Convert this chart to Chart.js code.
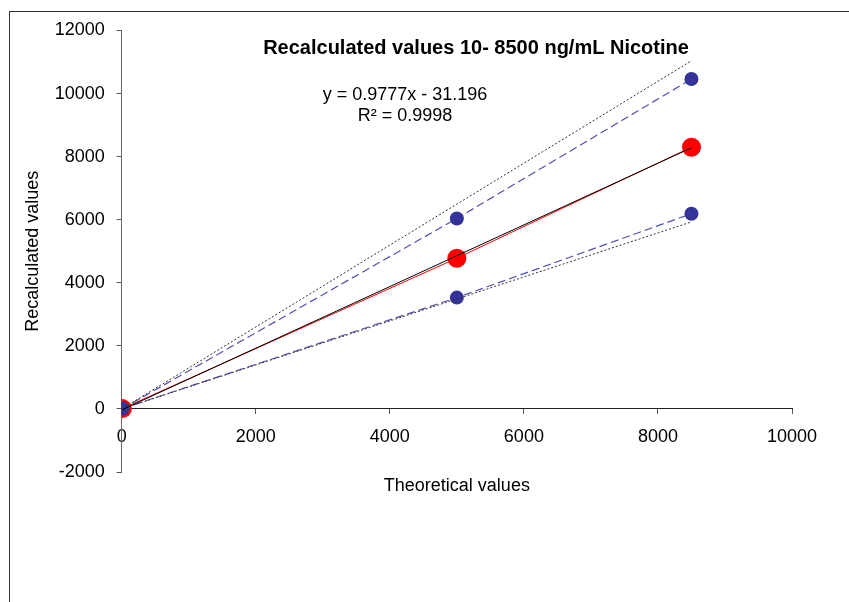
<!DOCTYPE html>
<html>
<head>
<meta charset="utf-8">
<title>Recalculated values</title>
<script src="https://cdn.jsdelivr.net/npm/chart.js@4/dist/chart.umd.min.js"></script>
<style>
    body { margin: 0; background: #fff; }
    .chartBox { position: relative; width: 849px; height: 602px; overflow: hidden; }
    .chartBox__frame { position: absolute; left: 9px; top: 11px; width: 900px; height: 700px; border: 1px solid #333; }
    #recalcChart { position: absolute; left: 0; top: 0; }
</style>
</head>
<body>
<div class="chartBox">
    <div class="chartBox__frame"></div>
    <canvas id="recalcChart" width="849" height="602"></canvas>
</div>
<script>
const FONT = "'Liberation Sans', Arial, sans-serif";

// concentrations (ng/mL) and recalculated results
const theoretical = [10, 5000, 8500];
const recalculated = [10, 4780, 8300];
const upperLimit = [10, 6040, 10460];
const lowerLimit = [10, 3530, 6190];

// dotted acceptance bounds
const boundX = [0, 8500];
const upperBound = [0, 11040];
const lowerBound = [0, 5930];

// linear fit
const slope = 0.9777;
const intercept = -31.196;
const rSquared = 0.9998;
const fitX = [10, 8500];

const chartTitle = 'Recalculated values 10- 8500 ng/mL Nicotine';
const xTitle = 'Theoretical values';
const yTitle = 'Recalculated values';

const xMin = 0, xMax = 10000, xStep = 2000;
const yMin = -2000, yMax = 12000, yStep = 2000;

function toPoints(xs, ys) {
    return xs.map(function (x, k) {
        return { x: x, y: ys[k] };
    });
}

const fitPoints = fitX.map(function (x) {
    return { x: x, y: slope * x + intercept };
});

// plain numbers, no thousands separator
function plainTick(value) {
    return String(value);
}

const textPlugin = {
    id: 'chartText',
    afterDraw(chart) {
        const ctx = chart.ctx;
        ctx.save();
        ctx.fillStyle = '#000';
        ctx.textAlign = 'center';
        ctx.textBaseline = 'middle';
        ctx.font = 'bold 20px ' + FONT;
        ctx.fillText(chartTitle, 476, 48);
        ctx.font = '18px ' + FONT;
        const sign = intercept < 0 ? ' - ' : ' + ';
        ctx.fillText('y = ' + slope + 'x' + sign + Math.abs(intercept), 405, 95);
        ctx.fillText('R\u00B2 = ' + rSquared, 405, 116);
        ctx.restore();
    }
};

const blue = '#333399';
const blueLine = '#5050b4';

const ctx = document.getElementById('recalcChart').getContext('2d');
const recalcChart = new Chart(ctx, {
    type: 'scatter',
    data: {
        datasets: [
            {
                label: 'fit',
                data: fitPoints,
                showLine: true,
                borderColor: '#000',
                borderWidth: 1,
                pointRadius: 0,
                order: 0
            },
            {
                label: 'upper bound',
                data: toPoints(boundX, upperBound),
                showLine: true,
                borderColor: '#333',
                borderWidth: 1,
                borderDash: [2, 2],
                pointRadius: 0,
                order: 1
            },
            {
                label: 'lower bound',
                data: toPoints(boundX, lowerBound),
                showLine: true,
                borderColor: '#333',
                borderWidth: 1,
                borderDash: [2, 2],
                pointRadius: 0,
                order: 1
            },
            {
                label: 'upper',
                data: toPoints(theoretical, upperLimit),
                showLine: true,
                borderColor: blueLine,
                borderWidth: 1.2,
                borderDash: [8, 4],
                pointRadius: 7,
                pointBackgroundColor: blue,
                pointBorderWidth: 0,
                order: 2
            },
            {
                label: 'lower',
                data: toPoints(theoretical, lowerLimit),
                showLine: true,
                borderColor: blueLine,
                borderWidth: 1.2,
                borderDash: [8, 4],
                pointRadius: 7,
                pointBackgroundColor: blue,
                pointBorderWidth: 0,
                order: 2
            },
            {
                label: 'recalculated',
                data: toPoints(theoretical, recalculated),
                showLine: true,
                borderColor: '#ff0000',
                borderWidth: 1,
                pointRadius: 9.5,
                pointBackgroundColor: '#ff0000',
                pointBorderWidth: 0,
                order: 3
            }
        ]
    },
    options: {
        responsive: false,
        animation: false,
        layout: {
            padding: { left: 10, top: 30.5, right: 57, bottom: 130 }
        },
        plugins: {
            legend: { display: false },
            tooltip: { enabled: false }
        },
        scales: {
            x: {
                type: 'linear',
                position: { y: 0 },
                min: xMin,
                max: xMax,
                ticks: {
                    stepSize: xStep,
                    color: '#000',
                    padding: 12,
                    callback: plainTick,
                    font: { family: FONT, size: 18 }
                },
                grid: { drawOnChartArea: false, drawTicks: true, tickLength: 5, color: '#555' },
                border: { display: true, color: '#222', width: 1 },
                title: {
                    display: true,
                    text: xTitle,
                    color: '#000',
                    padding: { top: 16, bottom: 0 },
                    font: { family: FONT, size: 18 }
                }
            },
            y: {
                type: 'linear',
                position: 'left',
                min: yMin,
                max: yMax,
                afterFit: function (scale) {
                    scale.width = 111.7;
                },
                ticks: {
                    stepSize: yStep,
                    color: '#000',
                    padding: 12,
                    callback: plainTick,
                    font: { family: FONT, size: 18 }
                },
                grid: { drawOnChartArea: false, drawTicks: true, tickLength: 5, color: '#555' },
                border: { display: true, color: '#666', width: 1 },
                title: {
                    display: true,
                    text: yTitle,
                    color: '#000',
                    padding: { top: 12, bottom: 0 },
                    font: { family: FONT, size: 18 }
                }
            }
        }
    },
    plugins: [textPlugin]
});
</script>
</body>
</html>
